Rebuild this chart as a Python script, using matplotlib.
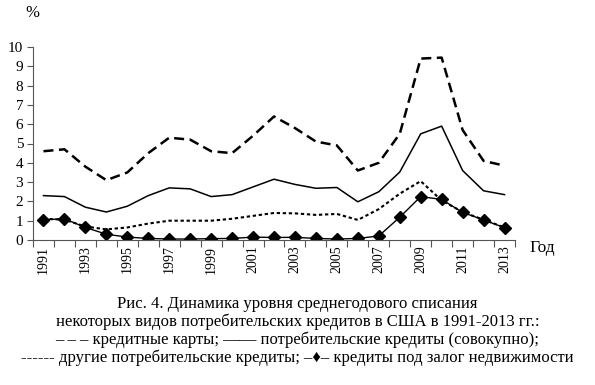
import matplotlib
matplotlib.use("Agg")
import matplotlib.pyplot as plt
import numpy as np

years = list(range(1991, 2014))
credit_cards = [4.6, 4.7, 3.8, 3.1, 3.5, 4.5, 5.3, 5.2, 4.6, 4.5, 5.4, 6.4, 5.8, 5.1, 4.9, 3.6, 4.0, 5.5, 9.4, 9.45, 5.7, 4.1, 3.85]
consumer_total = [2.3, 2.25, 1.7, 1.45, 1.75, 2.3, 2.7, 2.65, 2.25, 2.35, 2.75, 3.15, 2.88, 2.68, 2.72, 1.98, 2.5, 3.52, 5.5, 5.9, 3.6, 2.55, 2.35]
other_consumer = [1.1, 1.05, 0.7, 0.55, 0.65, 0.85, 1.0, 1.0, 1.0, 1.1, 1.25, 1.4, 1.38, 1.3, 1.35, 1.04, 1.6, 2.4, 3.05, 2.05, 1.45, 1.05, 0.65]
real_estate = [1.05, 1.1, 0.65, 0.3, 0.15, 0.08, 0.05, 0.05, 0.07, 0.08, 0.15, 0.13, 0.14, 0.08, 0.05, 0.08, 0.21, 1.18, 2.25, 2.1, 1.43, 1.04, 0.64]
yticks = list(range(0, 11))
caption = ["Рис. 4. Динамика уровня среднегодового списания",
           "некоторых видов потребительских кредитов в США в 1991-2013 гг.:",
           "– – – кредитные карты; —— потребительские кредиты (совокупно);",
           "------ другие потребительские кредиты; –♦– кредиты под залог недвижимости"]

plt.rcParams['font.family'] = ['Liberation Serif', 'DejaVu Serif']

fig = plt.figure(figsize=(5.95, 3.85), dpi=100)
ax = fig.add_axes([33/595, 1-240/385, 482/595, 193/385])

x = np.arange(len(years))
ax.plot(x, credit_cards, color='black', lw=1.8, dashes=(4, 2.2))
ax.plot(x, consumer_total, color='black', lw=1.1)
ax.plot(x, other_consumer, color='black', lw=1.5, dashes=(1.6, 1.3))
ax.plot(x, real_estate, color='black', lw=1.0, marker='D', markersize=6)

ax.set_xlim(-0.5, len(years) - 0.5)
ax.set_ylim(0, 10)
ax.set_yticks(yticks)
ax.set_yticklabels([str(v) for v in yticks], fontsize=11)
ax.set_xticks(x[::2])
ax.set_xticklabels([str(y) for y in years[::2]], rotation=90, fontsize=10)
ax.set_xticks(np.arange(len(years) + 1) - 0.5, minor=True)
ax.tick_params(axis='x', which='major', length=0, pad=4)
ax.tick_params(axis='x', which='minor', length=5, width=0.8, color='#555555')
ax.tick_params(axis='y', length=4, width=0.8, color='#555555', pad=3)
for s in ['top', 'right']:
    ax.spines[s].set_visible(False)
for s in ['left', 'bottom']:
    ax.spines[s].set_color('#555555')
    ax.spines[s].set_linewidth(0.8)

fig.text(32/595, 1-13/385, '%', fontsize=12, ha='center', va='center')
fig.text(542/595, 1-248/385, 'Год', fontsize=12.5, ha='center', va='center')

for i, line in enumerate(caption):
    fig.text(0.5, 1-(304+18*i)/385, line, fontsize=12, ha='center', va='center')

fig.savefig('out.png', dpi=100)
